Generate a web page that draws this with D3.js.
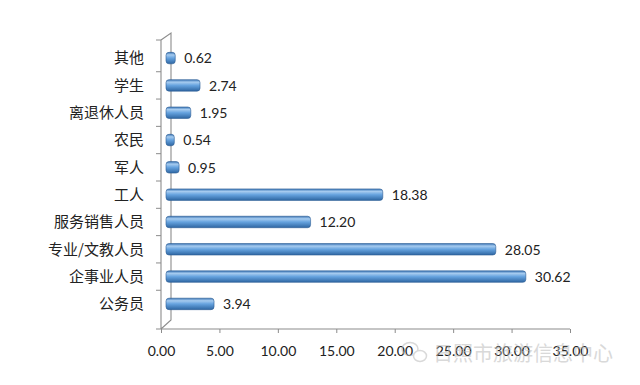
<!DOCTYPE html>
<html>
<head>
<meta charset="utf-8">
<script src="https://cdn.jsdelivr.net/npm/d3@7"></script>
<style>
  body { margin: 0; background: #fff; }
  svg { display: block; }
</style>
</head>
<body>
<div id="chart"></div>
<script>
// data (top to bottom as shown)
const categories = ["其他", "学生", "离退休人员", "农民", "军人", "工人", "服务销售人员", "专业/文教人员", "企事业人员", "公务员"];
const values = [0.62, 2.74, 1.95, 0.54, 0.95, 18.38, 12.20, 28.05, 30.62, 3.94];
const xTicks = [0, 5, 10, 15, 20, 25, 30, 35];

const width = 640, height = 385;
const depth = 10; // fake 3d offset of the back wall

const svg = d3.select("#chart").append("svg")
  .attr("width", width)
  .attr("height", height);

// bar gradient (cylinder look)
const defs = svg.append("defs");
const grad = defs.append("linearGradient")
  .attr("id", "barGrad")
  .attr("x1", 0).attr("y1", 0).attr("x2", 0).attr("y2", 1);
grad.append("stop").attr("offset", "0%").attr("stop-color", "#3b76b6");
grad.append("stop").attr("offset", "22%").attr("stop-color", "#a6cbef");
grad.append("stop").attr("offset", "50%").attr("stop-color", "#66a3df");
grad.append("stop").attr("offset", "100%").attr("stop-color", "#2e66a2");

// scales
const x = d3.scaleLinear().domain([0, 35]).range([161, 570]);
const y = d3.scaleBand().domain(categories).range([36.5, 325.5]).padding(0.58);
const step = y.step();

const axisColor = "#8c8c8c";
const axisBottomY = 329;
const axisTopY = 40;

// side wall: front line, back line and the two connectors
svg.append("path")
  .attr("d", `M${x(0)},${axisTopY} L${x(0)},${axisBottomY}`
    + ` M${x(0)},${axisTopY} L${x(0) + depth},${axisTopY - 7} L${x(0) + depth},${axisBottomY - 9} L${x(0)},${axisBottomY}`)
  .attr("fill", "none")
  .attr("stroke", axisColor)
  .attr("stroke-width", 1.1);

// category ticks at band boundaries
const bounds = [axisTopY].concat(categories.map(c => y(c) - (step - y.bandwidth()) / 2).slice(1));
svg.selectAll(".ctick")
  .data(bounds)
  .enter()
  .append("line")
  .attr("x1", x(0) - 5)
  .attr("x2", x(0))
  .attr("y1", d => d)
  .attr("y2", d => d)
  .attr("stroke", axisColor)
  .attr("stroke-width", 1);

// x axis
const xAxis = svg.append("g")
  .attr("transform", `translate(0,${axisBottomY})`)
  .call(d3.axisBottom(x).tickValues(xTicks).tickSize(4).tickPadding(13).tickFormat(d3.format(".2f")));
xAxis.select(".domain").attr("stroke", axisColor).attr("stroke-width", 1.1)
  .attr("d", `M${x(0) - 5},0H${x(35)}`);
xAxis.selectAll(".tick line").attr("stroke", axisColor);
xAxis.selectAll(".tick text")
  .attr("fill", "#222")
  .style("font-family", "Lato, 'Open Sans', sans-serif")
  .style("font-size", "14px");

// category labels
svg.selectAll(".clabel")
  .data(categories)
  .enter()
  .append("text")
  .attr("x", 144)
  .attr("y", d => y(d) + y.bandwidth() / 2)
  .attr("dy", "0.36em")
  .attr("text-anchor", "end")
  .attr("fill", "#222")
  .style("font-family", "'Noto Sans CJK SC', sans-serif")
  .style("font-size", "15px")
  .text(d => d);

// bars
const barOffset = 5;
const barLen = v => Math.max(x(v) - x(0) + 2, 8);
svg.selectAll(".bar")
  .data(categories)
  .enter()
  .append("rect")
  .attr("class", "bar")
  .attr("x", x(0) + barOffset)
  .attr("y", d => y(d))
  .attr("width", (d, i) => barLen(values[i]))
  .attr("height", y.bandwidth())
  .attr("rx", 3)
  .attr("fill", "url(#barGrad)")
  .attr("stroke", "#2c5d93")
  .attr("stroke-width", 0.6);

// value labels
svg.selectAll(".vlabel")
  .data(categories)
  .enter()
  .append("text")
  .attr("x", (d, i) => x(0) + barOffset + barLen(values[i]) + 9)
  .attr("y", d => y(d) + y.bandwidth() / 2)
  .attr("dy", "0.38em")
  .attr("fill", "#222")
  .style("font-family", "Lato, 'Open Sans', sans-serif")
  .style("font-size", "14px")
  .text((d, i) => values[i].toFixed(2));

// watermark
const wm = svg.append("g").attr("opacity", 0.55);
wm.append("ellipse").attr("cx", 410).attr("cy", 349).attr("rx", 8).attr("ry", 6.5)
  .attr("fill", "none").attr("stroke", "#bbb").attr("stroke-width", 1.5);
wm.append("ellipse").attr("cx", 420).attr("cy", 356).attr("rx", 6.5).attr("ry", 5.5)
  .attr("fill", "#fff").attr("stroke", "#bbb").attr("stroke-width", 1.5);
wm.append("text")
  .attr("x", 433)
  .attr("y", 361)
  .attr("fill", "#bbb")
  .style("font-family", "'Noto Sans CJK SC', sans-serif")
  .style("font-size", "20px")
  .text("日照市旅游信息中心");
</script>
</body>
</html>
